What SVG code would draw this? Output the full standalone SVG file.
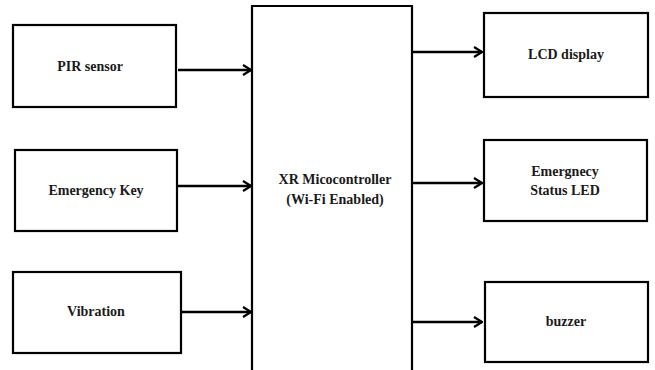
<svg xmlns="http://www.w3.org/2000/svg" width="655" height="370" viewBox="0 0 655 370">
<defs>
<marker id="ah" markerWidth="10" markerHeight="12" refX="9" refY="6" orient="auto" markerUnits="userSpaceOnUse">
<path d="M1,1 L9,6 L1,11" fill="none" stroke="#000" stroke-width="2.2"/>
</marker>
<style>
.box{fill:#fff;stroke:#000;stroke-width:2.2}
.lbl{font-family:'Liberation Serif','DejaVu Serif',serif;font-weight:bold;font-size:14px;fill:#1a1a1a;text-anchor:middle}
.con{stroke:#000;stroke-width:2.4;fill:none}
</style>
</defs>
<rect width="655" height="370" fill="#fff"/>
<g id="pir"><rect class="box" x="13" y="25" width="163" height="82"/><text class="lbl" x="90" y="71">PIR sensor</text></g>
<g id="emergency-key"><rect class="box" x="15" y="150" width="162" height="81"/><text class="lbl" x="96" y="195">Emergency Key</text></g>
<g id="vibration"><rect class="box" x="13" y="272" width="168" height="81"/><text class="lbl" x="96" y="316">Vibration</text></g>
<g id="mcu"><path class="box" d="M252,372 L252,6 L412,6 L412,372"/><text class="lbl" x="335" y="184">XR Micocontroller</text><text class="lbl" x="335" y="204">(Wi-Fi Enabled)</text></g>
<g id="lcd"><rect class="box" x="484" y="13" width="164" height="84"/><text class="lbl" x="566" y="59">LCD display</text></g>
<g id="led"><rect class="box" x="484" y="140" width="163" height="81"/><text class="lbl" x="565" y="176">Emergnecy</text><text class="lbl" x="565" y="195">Status LED</text></g>
<g id="buzzer"><rect class="box" x="485" y="282" width="163" height="80"/><text class="lbl" x="566" y="326">buzzer</text></g>
<g id="connectors">
<line class="con" x1="178" y1="70" x2="251" y2="70" marker-end="url(#ah)"/>
<line class="con" x1="178" y1="186" x2="251" y2="186" marker-end="url(#ah)"/>
<line class="con" x1="180" y1="312" x2="251" y2="312" marker-end="url(#ah)"/>
<line class="con" x1="413" y1="52" x2="482" y2="52" marker-end="url(#ah)"/>
<line class="con" x1="413" y1="183" x2="482" y2="183" marker-end="url(#ah)"/>
<line class="con" x1="413" y1="322" x2="482" y2="322" marker-end="url(#ah)"/>
</g>
</svg>
